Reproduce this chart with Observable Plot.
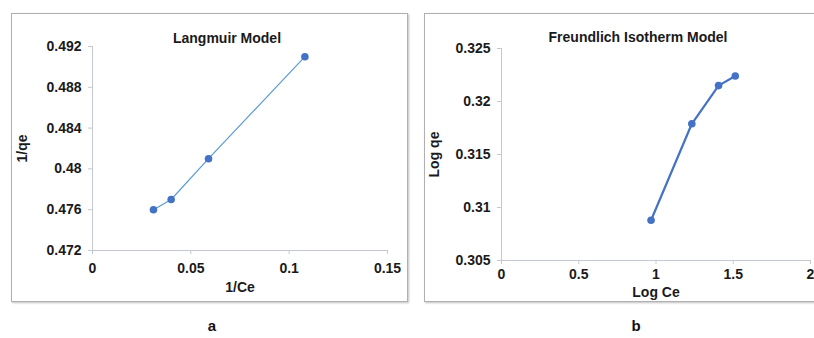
<!DOCTYPE html>
<html>
<head>
<meta charset="utf-8">
<script src="https://cdn.jsdelivr.net/npm/d3@7"></script>
<script src="https://cdn.jsdelivr.net/npm/@observablehq/plot@0.6"></script>
<style>
  html, body { margin: 0; padding: 0; background: #fff; width: 814px; height: 338px; overflow: hidden; }
  #root { position: relative; width: 814px; height: 338px; font-family: "Liberation Sans", Arial, sans-serif; }
  .panel { position: absolute; border: 1px solid #b0b0b0; box-shadow: 1px 1px 2px rgba(0,0,0,0.25); background: #fff; }
  .panel svg { overflow: visible; }
  .tag { position: absolute; font: bold 15px "Liberation Sans", Arial, sans-serif; color: #111; transform: translateX(-50%); }
</style>
</head>
<body>
<div id="root"></div>
<script>
// Langmuir model data
const langX = [0.031, 0.040, 0.059, 0.108];
const langY = [0.476, 0.477, 0.481, 0.491];
const langXTicks = [0, 0.05, 0.1, 0.15];
const langYTicks = [0.472, 0.476, 0.48, 0.484, 0.488, 0.492];

// Freundlich model data
const freuX = [0.968, 1.232, 1.405, 1.513];
const freuY = [0.3088, 0.3179, 0.3215, 0.3224];
const freuXTicks = [0, 0.5, 1, 1.5, 2];
const freuYTicks = [0.305, 0.31, 0.315, 0.32, 0.325];

const panelTags = ["a", "b"];

const font = "Liberation Sans, Arial, sans-serif";
const axisGray = "#c4c8d0";

function makeChart({xs, ys, xTicks, yTicks, title, xLabel, yLabel, width, height, margins, lineColor, lineWidth, titleDx, titleDy, xLabelOffset, yLabelOffset, xPad}) {
  const data = xs.map((x, i) => ({x, y: ys[i]}));
  const xDom = [xTicks[0], xTicks[xTicks.length - 1]];
  const yDom = [yTicks[0], yTicks[yTicks.length - 1]];
  return Plot.plot({
    width, height,
    marginLeft: margins.left, marginRight: margins.right,
    marginTop: margins.top, marginBottom: margins.bottom,
    style: {fontFamily: font, fontSize: "14px", fontWeight: "bold", background: "transparent", overflow: "visible"},
    x: {domain: xDom},
    y: {domain: yDom},
    marks: [
      Plot.ruleX([xDom[0]], {stroke: axisGray, strokeWidth: 1}),
      Plot.ruleY([yDom[0]], {stroke: axisGray, strokeWidth: 1}),
      Plot.axisX({ticks: xTicks, tickFormat: d => String(d), tickSize: 4, tickPadding: xPad, stroke: axisGray, fill: "#1a1a1a",
        label: xLabel, labelAnchor: "center", labelArrow: false, labelOffset: xLabelOffset, fontSize: 14}),
      Plot.axisY({ticks: yTicks, tickFormat: d => String(d), tickSize: 4, tickPadding: 7, stroke: axisGray, fill: "#1a1a1a",
        label: yLabel, labelAnchor: "center", labelArrow: false, labelOffset: yLabelOffset, fontSize: 14}),
      Plot.line(data, {x: "x", y: "y", stroke: lineColor, strokeWidth: lineWidth}),
      Plot.dot(data, {x: "x", y: "y", r: 3.8, fill: "#4472c4", stroke: "none"}),
      Plot.text([title], {frameAnchor: "top", text: d => d, dy: titleDy, dx: titleDx, fontSize: 14, fontWeight: "bold", fill: "#1a1a1a"})
    ]
  });
}

const root = document.getElementById("root");

function addPanel(left, top, w, h, chart) {
  const div = document.createElement("div");
  div.className = "panel";
  div.style.left = left + "px";
  div.style.top = top + "px";
  div.style.width = w + "px";
  div.style.height = h + "px";
  chart.style.position = "absolute";
  chart.style.left = "0px";
  chart.style.top = "0px";
  div.appendChild(chart);
  root.appendChild(div);
}

const left = makeChart({
  xs: langX, ys: langY, xTicks: langXTicks, yTicks: langYTicks,
  title: "Langmuir Model", xLabel: "1/Ce", yLabel: "1/qe",
  width: 395, height: 287,
  margins: {left: 80, right: 20, top: 32, bottom: 51},
  lineColor: "#5b9bd5", lineWidth: 1.2, titleDx: -13, titleDy: -13,
  xLabelOffset: 41, yLabelOffset: 75, xPad: 9
});
addPanel(11, 13, 395, 287, left);

const right = makeChart({
  xs: freuX, ys: freuY, xTicks: freuXTicks, yTicks: freuYTicks,
  title: "Freundlich Isotherm Model", xLabel: "Log Ce", yLabel: "Log qe",
  width: 400, height: 287,
  margins: {left: 76, right: 15, top: 34, bottom: 41},
  lineColor: "#4472c4", lineWidth: 2.2, titleDx: -18, titleDy: -16,
  xLabelOffset: 36, yLabelOffset: 72, xPad: 5
});
addPanel(424, 13, 400, 287, right);

panelTags.forEach((t, i) => {
  const el = document.createElement("div");
  el.className = "tag";
  el.textContent = t;
  el.style.left = (i === 0 ? 212 : 636) + "px";
  el.style.top = "317px";
  root.appendChild(el);
});
</script>
</body>
</html>
